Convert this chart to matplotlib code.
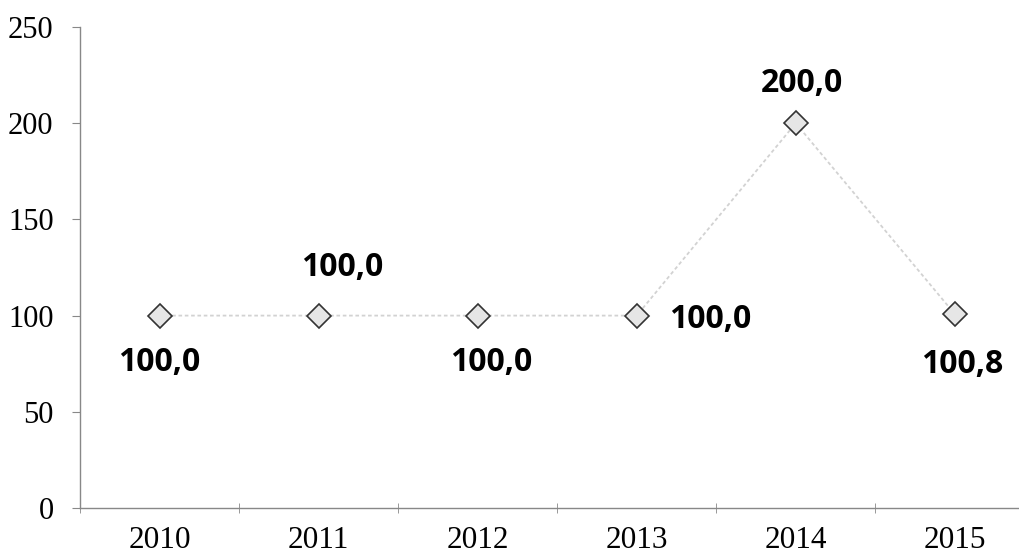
import matplotlib
matplotlib.use('Agg')
import matplotlib.pyplot as plt
import numpy as np

years = ['2010', '2011', '2012', '2013', '2014', '2015']
values = [100.0, 100.0, 100.0, 100.0, 200.0, 100.8]
labels = ['100,0', '100,0', '100,0', '100,0', '200,0', '100,8']
yticks = [0, 50, 100, 150, 200, 250]

# label placement (pixel offsets of the text baseline from the point)
label_dx = [0, 24, 14, 32, 6, 7]
label_dy = [-55, 40, -55, -12, 31, -59]
label_ha = ['center', 'center', 'center', 'left', 'center', 'center']

fig = plt.figure(figsize=(10.2, 5.59), dpi=100)
ax = fig.add_axes([80 / 1020, 51 / 559, 1 - 80 / 1020, 481 / 559])

xs = np.arange(len(years))
ax.plot(xs, values, color='#d2d2d2', linewidth=1.3, linestyle=(0, (2, 1.5)),
        zorder=2)
ax.plot(xs, values, linestyle='none', marker='D', markersize=12,
        markerfacecolor='#e6e6e6', markeredgecolor='#333333',
        markeredgewidth=1.2, zorder=3)

for x, y, lab, dx, dy, ha in zip(xs, values, labels, label_dx, label_dy,
                                 label_ha):
    ax.annotate(lab, xy=(x, y), xytext=(dx, dy), textcoords='offset pixels',
                ha=ha, va='baseline', fontsize=23, fontweight='bold',
                family=['Open Sans', 'DejaVu Sans'], color='#000000')

ax.set_xlim(-0.5, 5.41)
ax.set_ylim(0, 250)
ax.set_yticks(yticks)
ax.set_yticklabels([str(t) for t in yticks], family='Liberation Serif',
                   fontsize=22)
ax.set_xticks(xs)
ax.set_xticklabels(years, family='Liberation Serif', fontsize=22.5)
ax.set_xticks(np.arange(-0.5, 5.5, 1.0), minor=True)
ax.tick_params(axis='x', which='major', length=0, pad=13)
ax.tick_params(axis='x', which='minor', length=7, direction='inout',
               color='#888888')
ax.tick_params(axis='y', length=6, color='#888888', pad=13)

for side in ['top', 'right']:
    ax.spines[side].set_visible(False)
for side in ['left', 'bottom']:
    ax.spines[side].set_color('#888888')
    ax.spines[side].set_linestyle((0, (1, 1)))
    ax.spines[side].set_linewidth(1.0)

fig.savefig('out.png', dpi=100)
